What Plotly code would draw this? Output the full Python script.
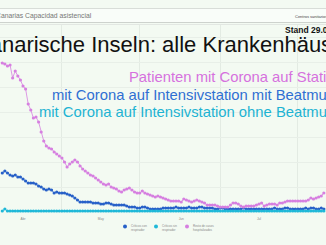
import plotly.graph_objects as go
import pandas as pd

W, H = 326, 245

start_date = "2020-03-24"
n_days = 125

series_names = ["Críticos con respirador", "Críticos sin respirador", "Resto de casos hospitalizados"]
legend_labels = ["Críticos con<br>respirador", "Críticos sin<br>respirador", "Resto de casos<br>hospitalizados"]
series_colors = ["#2760c8", "#1fb8d8", "#d67fe0"]

resto = [298, 296, 292, 294, 268, 282, 272, 264, 252, 246,
         216, 204, 188, 190, 180, 160, 142, 132, 128, 126,
         120, 116, 112, 108, 100, 90, 96, 100, 104, 100,
         92, 86, 82, 78, 74, 72, 68, 64, 60, 56,
         54, 56, 50, 48, 46, 42, 40, 44, 46, 48,
         44, 40, 38, 38, 42, 38, 36, 34, 32, 30,
         32, 30, 28, 26, 24, 22, 22, 22, 22, 20,
         26, 24, 22, 20, 22, 24, 22, 20, 18, 14,
         14, 14, 14, 12, 10, 10, 10, 10, 14, 18,
         18, 16, 12, 10, 12, 12, 12, 12, 14, 16,
         18, 12, 14, 16, 16, 16, 14, 18, 18, 20,
         22, 22, 22, 22, 22, 22, 22, 22, 24, 28,
         26, 28, 30, 32, 38]

con_resp = [78, 82, 78, 74, 72, 74, 70, 70, 66, 62,
            58, 58, 58, 56, 52, 50, 46, 44, 46, 44,
            38, 40, 38, 38, 38, 36, 34, 32, 28, 24,
            20, 20, 20, 20, 20, 18, 18, 18, 16, 16,
            18, 18, 16, 14, 14, 14, 14, 14, 12, 10,
            10, 10, 8, 8, 10, 10, 8, 6, 6, 6,
            6, 6, 8, 8, 8, 8, 8, 10, 8, 8,
            8, 8, 10, 8, 8, 8, 10, 10, 8, 8,
            8, 8, 6, 6, 8, 8, 6, 6, 6, 6,
            6, 6, 6, 8, 6, 6, 6, 6, 6, 6,
            6, 6, 6, 6, 6, 8, 6, 6, 6, 8,
            8, 6, 6, 6, 6, 6, 6, 8, 6, 8,
            8, 6, 6, 8, 6]

sin_resp = [2, 6, 2, 2, 2, 2, 2, 2, 2, 2,
            2, 2, 2, 2, 2, 2, 2, 2, 2, 2,
            2, 2, 2, 2, 2, 2, 2, 2, 2, 2,
            2, 2, 2, 2, 2, 2, 2, 2, 2, 2,
            2, 2, 2, 2, 2, 2, 2, 2, 2, 2,
            2, 2, 2, 2, 2, 2, 2, 2, 2, 2,
            2, 2, 2, 2, 2, 2, 2, 2, 2, 2,
            2, 2, 2, 2, 2, 2, 2, 2, 2, 2,
            2, 2, 2, 2, 2, 2, 2, 2, 2, 2,
            2, 2, 2, 2, 2, 2, 2, 2, 2, 2,
            2, 2, 2, 2, 2, 2, 2, 2, 2, 2,
            2, 2, 2, 2, 2, 2, 2, 2, 2, 2,
            2, 2, 2, 2, 2]

month_ticks = ["2020-04-01", "2020-05-01", "2020-06-01", "2020-07-01"]
month_labels = ["Abr", "May", "Jun", "Jul"]
mid_month_grid = ["2020-03-16", "2020-04-16", "2020-05-16", "2020-06-16", "2020-07-16"]

overlay_lines = ["Patienten mit Corona auf Station",
                 "mit Corona auf Intensivstation mit Beatmung",
                 "mit Corona auf Intensivstation ohne Beatmung"]
overlay_colors = ["#d671de", "#2f6fd2", "#1db3d3"]

title_text = "Kanarische Inseln: alle Krankenhäuser"
stand_text = "Stand 29.07.2020"
header_text = "Canarias Capacidad asistencial"
header_right = "Centros sanitarios"

dates = pd.date_range(start_date, periods=n_days, freq="D")


def px(x):
    return x / W


def py(y):
    return 1 - y / H


fig = go.Figure()
for vals, name, col in [(con_resp, series_names[0], series_colors[0]),
                        (sin_resp, series_names[1], series_colors[1]),
                        (resto, series_names[2], series_colors[2])]:
    fig.add_trace(go.Scatter(
        x=dates, y=vals, name=name, mode="lines+markers",
        line=dict(color=col, width=0.8),
        marker=dict(color=col, size=3.2),
        showlegend=False, hoverinfo="skip"))

bg = "#f3faf2"
fig.update_layout(
    width=W, height=H, margin=dict(l=0, r=0, t=0, b=0),
    paper_bgcolor=bg, plot_bgcolor=bg,
    showlegend=False,
    xaxis=dict(domain=[0, 1], range=["2020-03-23 03:00", "2020-07-26 20:00"],
               tickmode="array", tickvals=month_ticks, ticktext=month_labels,
               tickfont=dict(size=3.2, color="#888", family="Liberation Sans"),
               showgrid=False, zeroline=False, showline=False, ticks="",
               ticklabelstandoff=3,
               minor=dict(tickmode="array", tickvals=mid_month_grid, showgrid=True,
                          gridcolor="#e3ebe3", gridwidth=1, ticks="")),
    yaxis=dict(domain=[py(213), py(25)], range=[-2, 374],
               showticklabels=False, dtick=50, tick0=0,
               showgrid=True, gridcolor="#e8efe8", gridwidth=1,
               zeroline=False, showline=False, ticks=""),
)

shapes = []
shapes.append(dict(type="rect", xref="paper", yref="paper", x0=0, x1=1,
                   y0=py(22), y1=py(9), fillcolor="#f9fdf9", line=dict(width=0), layer="below"))
shapes.append(dict(type="line", xref="paper", yref="paper", x0=0, x1=1,
                   y0=py(8.5), y1=py(8.5), line=dict(color="#d8ddd8", width=1)))
shapes.append(dict(type="line", xref="paper", yref="paper", x0=0, x1=1,
                   y0=py(22.5), y1=py(22.5), line=dict(color="#cdd2cd", width=1)))
shapes.append(dict(type="line", xref="paper", yref="paper", x0=0, x1=1,
                   y0=py(24.5), y1=py(24.5), line=dict(color="#e2e7e2", width=1)))

annotations = []
annotations.append(dict(text=header_text, x=px(-6), y=py(15.7), xref="paper", yref="paper",
                        xanchor="left", yanchor="middle", showarrow=False,
                        font=dict(size=6.8, color="#777", family="Liberation Sans")))
annotations.append(dict(text=header_right, x=px(293), y=py(16), xref="paper", yref="paper",
                        xanchor="left", yanchor="middle", showarrow=False,
                        font=dict(size=4, color="#444", family="Liberation Sans")))
annotations.append(dict(text="<b>" + stand_text + "</b>", x=px(283), y=py(30.5), xref="paper", yref="paper",
                        xanchor="left", yanchor="middle", showarrow=False,
                        font=dict(size=8.5, color="#111", family="Liberation Sans")))
annotations.append(dict(text=title_text, x=0.5, y=py(45), xref="paper", yref="paper",
                        xanchor="center", yanchor="middle", showarrow=False,
                        font=dict(size=22, color="#111", family="Liberation Sans")))
for i, (t, c) in enumerate(zip(overlay_lines, overlay_colors)):
    annotations.append(dict(text=t, x=px(345), y=py(77 + 17.7 * i), xref="paper", yref="paper",
                            xanchor="right", yanchor="middle", showarrow=False,
                            font=dict(size=14.8, color=c, family="Liberation Sans")))

legend_x = [125, 156, 187]
for lx, lab, col in zip(legend_x, legend_labels, series_colors):
    shapes.append(dict(type="circle", xref="paper", yref="paper",
                       x0=px(lx - 2), x1=px(lx + 2), y0=py(228.5), y1=py(224.5),
                       fillcolor=col, line=dict(width=0)))
    annotations.append(dict(text=lab, x=px(lx + 4), y=py(228.3), xref="paper", yref="paper",
                            xanchor="left", yanchor="middle", align="left", showarrow=False,
                            font=dict(size=3, color="#888", family="Liberation Sans")))

fig.update_layout(shapes=shapes, annotations=annotations)
fig.write_html("out.html")
